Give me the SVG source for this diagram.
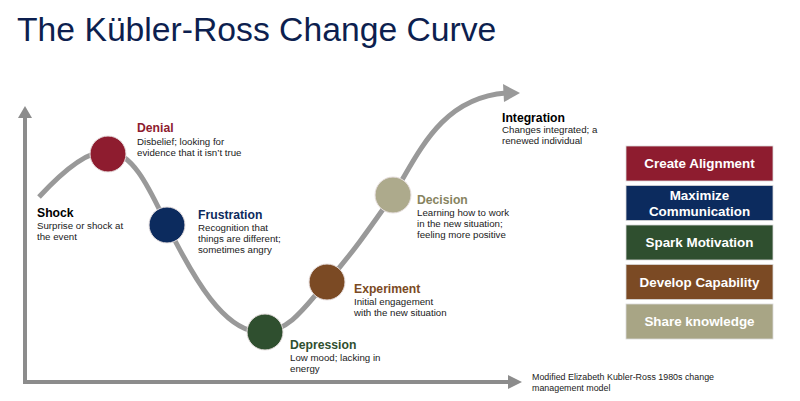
<svg xmlns="http://www.w3.org/2000/svg" width="800" height="401" viewBox="0 0 800 401">
<style>
text{font-family:"Liberation Sans",Arial,sans-serif}
.title{font-size:33.7px;fill:#0d1f4f}
.h{font-size:12.2px;font-weight:bold}
.d{font-size:9.7px;fill:#1a1a1a}
.fn{font-size:8.9px;fill:#1a1a1a}
.bt{font-size:13.4px;font-weight:bold;fill:#ffffff;text-anchor:middle}
.circ{stroke:#e8e0e0;stroke-width:1}
.axis{stroke:#8c8c8c;stroke-width:4;fill:none}
.ah{fill:#8c8c8c}
.box{stroke:#d9d9d9;stroke-width:0.8}
</style>
<rect width="800" height="401" fill="#ffffff"/>
<text class="title" x="17" y="41">The Kübler-Ross Change Curve</text>
<g id="connectors">
<line class="axis" x1="25" y1="383" x2="25" y2="116"/>
<polygon class="ah" points="18,118 25,106 32,118"/>
<line class="axis" x1="23" y1="382" x2="510" y2="382"/>
<polygon class="ah" points="508,375 522,382 508,389"/>
<path d="M39,197 C62,172 88,150 108,151 C135,153 152,195 167,225 C192,275 225,336 265,332 C292,329 306,305 327,282 C352,254 372,225 393,195 C418,155 440,98 506,93" fill="none" stroke="#999999" stroke-width="5"/>
<polygon points="503,84 520,93 504,102" fill="#999999"/>
</g>
<g id="shock">
<text class="h" x="37" y="217" fill="#000">Shock</text>
<text class="d" x="37" y="229">Surprise or shock at</text>
<text class="d" x="37" y="240">the event</text>
</g>
<g id="denial">
<circle class="circ" cx="108" cy="154" r="18" fill="#8e1c2f"/>
<text class="h" x="137" y="132" fill="#8e1c2f">Denial</text>
<text class="d" x="137" y="145">Disbelief; looking for</text>
<text class="d" x="137" y="156">evidence that it isn’t true</text>
</g>
<g id="frustration">
<circle class="circ" cx="167" cy="225" r="18" fill="#0c2b5e"/>
<text class="h" x="198" y="219" fill="#0c2b5e">Frustration</text>
<text class="d" x="198" y="231">Recognition that</text>
<text class="d" x="198" y="242">things are different;</text>
<text class="d" x="198" y="253">sometimes angry</text>
</g>
<g id="depression">
<circle class="circ" cx="265" cy="332" r="18" fill="#2f4f2f"/>
<text class="h" x="290" y="349" fill="#2f4f2f">Depression</text>
<text class="d" x="290" y="361">Low mood; lacking in</text>
<text class="d" x="290" y="372">energy</text>
</g>
<g id="experiment">
<circle class="circ" cx="327" cy="282" r="18" fill="#7b4a24"/>
<text class="h" x="354" y="293" fill="#7b4a24">Experiment</text>
<text class="d" x="354" y="305">Initial engagement</text>
<text class="d" x="354" y="316">with the new situation</text>
</g>
<g id="decision">
<circle class="circ" cx="393" cy="195" r="18" fill="#adaa8c"/>
<text class="h" x="417" y="204" fill="#87845f">Decision</text>
<text class="d" x="417" y="216">Learning how to work</text>
<text class="d" x="417" y="227">in the new situation;</text>
<text class="d" x="417" y="238">feeling more positive</text>
</g>
<g id="integration">
<text class="h" x="502" y="122" fill="#000">Integration</text>
<text class="d" x="502" y="133">Changes integrated; a</text>
<text class="d" x="502" y="144">renewed individual</text>
</g>
<g id="footnote">
<text class="fn" x="532" y="380">Modified Elizabeth Kubler-Ross 1980s change</text>
<text class="fn" x="532" y="391">management model</text>
</g>
<g id="box-alignment">
<rect class="box" x="626" y="146" width="147" height="35" fill="#8e1c2f"/>
<text class="bt" x="699.5" y="168">Create Alignment</text>
</g>
<g id="box-communication">
<rect class="box" x="626" y="185.5" width="147" height="35" fill="#0c2b5e"/>
<text class="bt" x="699.5" y="200">Maximize</text>
<text class="bt" x="699.5" y="216">Communication</text>
</g>
<g id="box-motivation">
<rect class="box" x="626" y="225" width="147" height="35" fill="#2f4f2f"/>
<text class="bt" x="699.5" y="247">Spark Motivation</text>
</g>
<g id="box-capability">
<rect class="box" x="626" y="264.5" width="147" height="35" fill="#7b4a24"/>
<text class="bt" x="699.5" y="286.5">Develop Capability</text>
</g>
<g id="box-knowledge">
<rect class="box" x="626" y="304" width="147" height="35" fill="#a8a585"/>
<text class="bt" x="699.5" y="326" fill="#f2f2f2">Share knowledge</text>
</g>
</svg>
